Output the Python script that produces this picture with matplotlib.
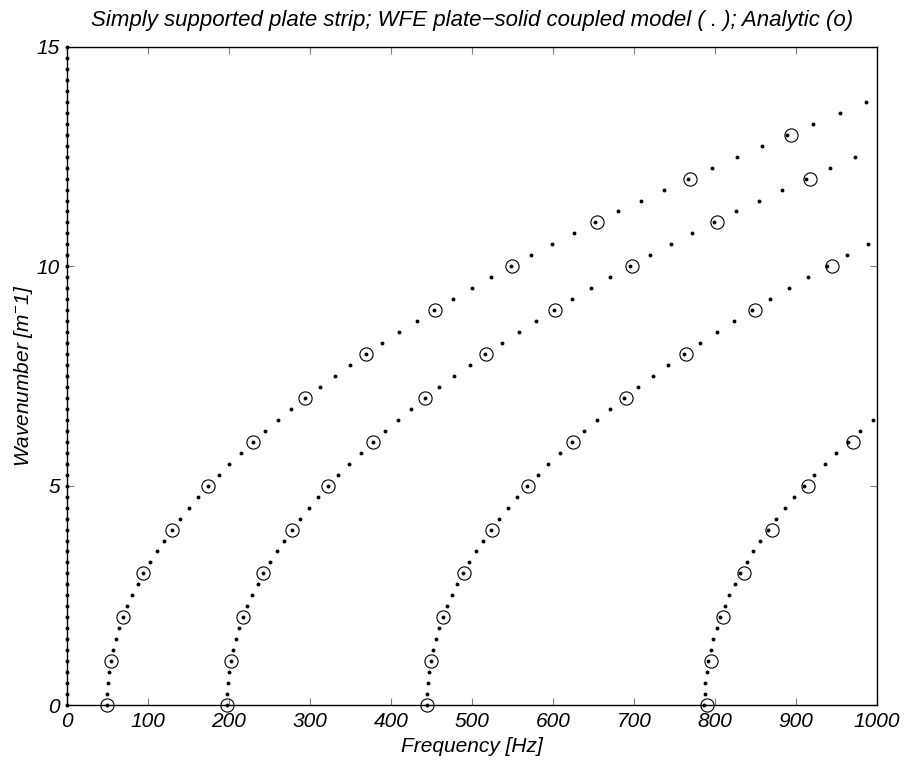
import matplotlib
matplotlib.use("Agg")
import matplotlib.pyplot as plt

plt.rcParams['font.family'] = ['Liberation Sans', 'DejaVu Sans']
plt.rcParams['mathtext.fontset'] = 'custom'
plt.rcParams['mathtext.rm'] = 'Liberation Sans:italic'
plt.rcParams['mathtext.it'] = 'Liberation Sans:italic'

# wavenumber grid used by the WFE model [1/m]
wavenumber = [0.0, 0.25, 0.5, 0.75, 1.0, 1.25, 1.5, 1.75, 2.0, 2.25, 2.5, 2.75,
              3.0, 3.25, 3.5, 3.75, 4.0, 4.25, 4.5, 4.75, 5.0, 5.25, 5.5, 5.75,
              6.0, 6.25, 6.5, 6.75, 7.0, 7.25, 7.5, 7.75, 8.0, 8.25, 8.5, 8.75,
              9.0, 9.25, 9.5, 9.75, 10.0, 10.25, 10.5, 10.75, 11.0, 11.25, 11.5,
              11.75, 12.0, 12.25, 12.5, 12.75, 13.0, 13.25, 13.5, 13.75, 14.0,
              14.25, 14.5, 14.75, 15.0]

# WFE frequencies [Hz] per branch (same index as wavenumber)
wfe_branch0 = [0.0] * len(wavenumber)
wfe_branch1 = [49.4, 49.7, 50.7, 52.2, 54.4, 57.2, 60.7, 64.7, 69.4, 74.7, 80.6,
               87.2, 94.4, 102.2, 110.6, 119.7, 129.4, 139.7, 150.6, 162.2, 174.4,
               187.2, 200.6, 214.6, 229.3, 244.6, 260.5, 277.1, 294.2, 312.0, 330.4,
               349.4, 369.0, 389.3, 410.2, 431.6, 453.7, 476.4, 499.8, 523.7, 548.2,
               573.4, 599.1, 625.5, 652.4, 680.0, 708.1, 736.9, 766.2, 796.1, 826.6,
               857.7, 889.4, 921.6, 954.4, 986.5]
wfe_branch2 = [197.5, 197.8, 198.8, 200.3, 202.5, 205.3, 208.8, 212.8, 217.5, 222.8,
               228.8, 235.3, 242.5, 250.3, 258.7, 267.8, 277.4, 287.7, 298.7, 310.2,
               322.4, 335.1, 348.6, 362.6, 377.2, 392.5, 408.4, 424.9, 442.0, 459.7,
               478.1, 497.0, 516.6, 536.8, 557.6, 579.0, 601.1, 623.7, 646.9, 670.8,
               695.2, 720.3, 745.9, 772.1, 799.0, 826.4, 854.4, 883.0, 912.2, 941.9,
               972.3]
wfe_branch3 = [444.0, 444.3, 445.2, 446.8, 449.0, 451.8, 455.2, 459.2, 463.9, 469.2,
               475.1, 481.6, 488.8, 496.5, 504.9, 513.9, 523.6, 533.8, 544.7, 556.2,
               568.3, 581.0, 594.4, 608.3, 622.9, 638.1, 653.9, 670.3, 687.3, 704.9,
               723.2, 742.0, 761.5, 781.5, 802.2, 823.4, 845.3, 867.8, 890.8, 914.5,
               938.7, 963.5, 988.9]
wfe_branch4 = [786.9, 787.2, 788.2, 789.7, 791.9, 794.6, 798.0, 802.0, 806.7, 811.9,
               817.8, 824.2, 831.3, 839.0, 847.3, 856.2, 865.8, 875.9, 886.7, 898.0,
               910.0, 922.6, 935.8, 949.6, 964.0, 979.0, 994.6]

# analytic solution at integer wavenumbers
k_analytic = [0, 1, 2, 3, 4, 5, 6, 7, 8, 9, 10, 11, 12, 13]
an_branch1 = [49.4, 54.4, 69.4, 94.4, 129.4, 174.4, 229.4, 294.4, 369.4, 454.4,
              549.4, 654.4, 769.4, 894.4]
an_branch2 = [197.6, 202.6, 217.6, 242.6, 277.6, 322.6, 377.6, 442.6, 517.6, 602.6,
              697.6, 802.6, 917.6]
an_branch3 = [444.6, 449.6, 464.6, 489.6, 524.6, 569.6, 624.6, 689.6, 764.6, 849.6,
              944.6]
an_branch4 = [790.4, 795.4, 810.4, 835.4, 870.4, 915.4, 970.4]

x_ticks = [0, 100, 200, 300, 400, 500, 600, 700, 800, 900, 1000]
y_ticks = [0, 5, 10, 15]

fig = plt.figure(figsize=(9.1, 7.7), dpi=100)
ax = fig.add_axes([0.0736, 0.0844, 0.8901, 0.8546])

for br in [wfe_branch0, wfe_branch1, wfe_branch2, wfe_branch3, wfe_branch4]:
    ax.plot(br, wavenumber[:len(br)], linestyle='none', marker='o',
            markersize=2.8, color='black', markeredgewidth=0, clip_on=False,
            zorder=4)

for br in [an_branch1, an_branch2, an_branch3, an_branch4]:
    ax.plot(br, k_analytic[:len(br)], linestyle='none', marker='o',
            markersize=9.5, markerfacecolor='none', markeredgecolor='black',
            markeredgewidth=0.8, clip_on=False, zorder=3)

ax.set_xlim(0, 1000)
ax.set_ylim(0, 15)
ax.set_xticks(x_ticks)
ax.set_yticks(y_ticks)
ax.set_xticklabels([str(t) for t in x_ticks], fontstyle='italic', fontsize=15)
ax.set_yticklabels([str(t) for t in y_ticks], fontstyle='italic', fontsize=15)
ax.tick_params(direction='in', length=5, width=0.8, color='#808080',
               top=True, right=True, pad=5)
for s in ax.spines.values():
    s.set_linewidth(1.0)
    s.set_color('black')

ax.set_xlabel('Frequency [Hz]', fontstyle='italic', fontsize=15, labelpad=4)
ax.set_ylabel('Wavenumber [m$^{-}$1]', fontstyle='italic', fontsize=15, labelpad=1)
ax.set_title('Simply supported plate strip; WFE plate\u2212solid coupled model ( . ); Analytic (o)',
             fontstyle='italic', fontsize=16, pad=15)

fig.savefig('out.png', dpi=100)
